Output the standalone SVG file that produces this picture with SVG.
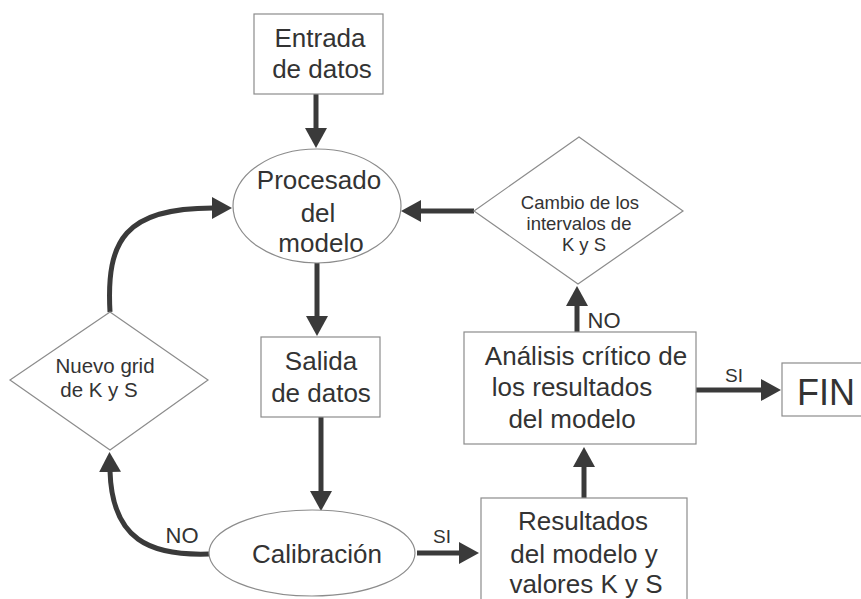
<svg xmlns="http://www.w3.org/2000/svg" width="861" height="599" viewBox="0 0 861 599">
<style>
.box{fill:#fff;stroke:#8c8c8c;stroke-width:1.2}
.t{font-family:"Liberation Sans",Arial,sans-serif;fill:#333;text-anchor:middle}
.big{font-size:26px}
.mid{font-size:18.5px}
.nv{font-size:20.5px}
.lbl{font-size:22px}
.sm{font-size:19px}
.c{fill:none;stroke:#3a3a3a;stroke-width:5}
</style>
<defs>
<marker id="ah" viewBox="0 0 20 22" refX="1" refY="11" markerWidth="20" markerHeight="22" markerUnits="userSpaceOnUse" orient="auto">
<path d="M0,0 L20,11 L0,22 z" fill="#3a3a3a"/>
</marker>
</defs>
<rect width="861" height="599" fill="#fff"/>
<g id="connectors">
<path class="c" d="M316,94 V129" marker-end="url(#ah)"/>
<path class="c" d="M474,211 H420" marker-end="url(#ah)"/>
<path class="c" d="M317,263 V317" marker-end="url(#ah)"/>
<path class="c" d="M321,417 V492" marker-end="url(#ah)"/>
<path class="c" d="M417,553 H460" marker-end="url(#ah)"/>
<path class="c" d="M584,498 V466" marker-end="url(#ah)"/>
<path class="c" d="M577,332 V305" marker-end="url(#ah)"/>
<path class="c" d="M696,390 H762" marker-end="url(#ah)"/>
<path class="c" d="M209,554 C150,556 112,540 110,471" marker-end="url(#ah)"/>
<path class="c" d="M110,312 C106,240 125,208 213,208" marker-end="url(#ah)"/>
<text class="t lbl" x="604" y="328">NO</text>
<text class="t sm" x="734" y="382">SI</text>
<text class="t sm" x="442" y="543">SI</text>
<text class="t lbl" x="182" y="543">NO</text>
</g>
<g id="entrada">
<rect class="box" x="254" y="14" width="129" height="80"/>
<text class="t big" x="320" y="47">Entrada</text>
<text class="t big" x="322" y="78">de datos</text>
</g>
<g id="procesado">
<ellipse class="box" cx="317" cy="206" rx="84" ry="57"/>
<text class="t big" x="319" y="189">Procesado</text>
<text class="t big" x="318" y="222">del</text>
<text class="t big" x="321" y="252">modelo</text>
</g>
<g id="cambio">
<polygon class="box" points="579,137 683,211 578,284 474,211"/>
<text class="t mid" x="580" y="209">Cambio de los</text>
<text class="t mid" x="579" y="230">intervalos de</text>
<text class="t mid" x="584" y="251">K y S</text>
</g>
<g id="nuevo">
<polygon class="box" points="110,312 208,380 110,450 10,380"/>
<text class="t nv" x="105" y="373">Nuevo grid</text>
<text class="t nv" x="99" y="397">de K y S</text>
</g>
<g id="salida">
<rect class="box" x="261" y="337" width="119" height="80"/>
<text class="t big" x="321" y="370">Salida</text>
<text class="t big" x="321" y="402">de datos</text>
</g>
<g id="analisis">
<rect class="box" x="464" y="332" width="232" height="112"/>
<text class="t big" x="586" y="365">Análisis crítico de</text>
<text class="t big" x="572" y="396">los resultados</text>
<text class="t big" x="572" y="428">del modelo</text>
</g>
<g id="fin">
<rect class="box" x="782" y="363" width="90" height="53"/>
<text class="t" x="797" y="405" style="font-size:36px;text-anchor:start">FIN</text>
</g>
<g id="calibracion">
<ellipse class="box" cx="312" cy="553" rx="103" ry="43"/>
<text class="t big" x="317" y="563">Calibración</text>
</g>
<g id="resultados">
<rect class="box" x="481" y="498" width="206" height="110"/>
<text class="t big" x="583" y="530">Resultados</text>
<text class="t big" x="584" y="563">del modelo y</text>
<text class="t big" x="586" y="593">valores K y S</text>
</g>
</svg>
